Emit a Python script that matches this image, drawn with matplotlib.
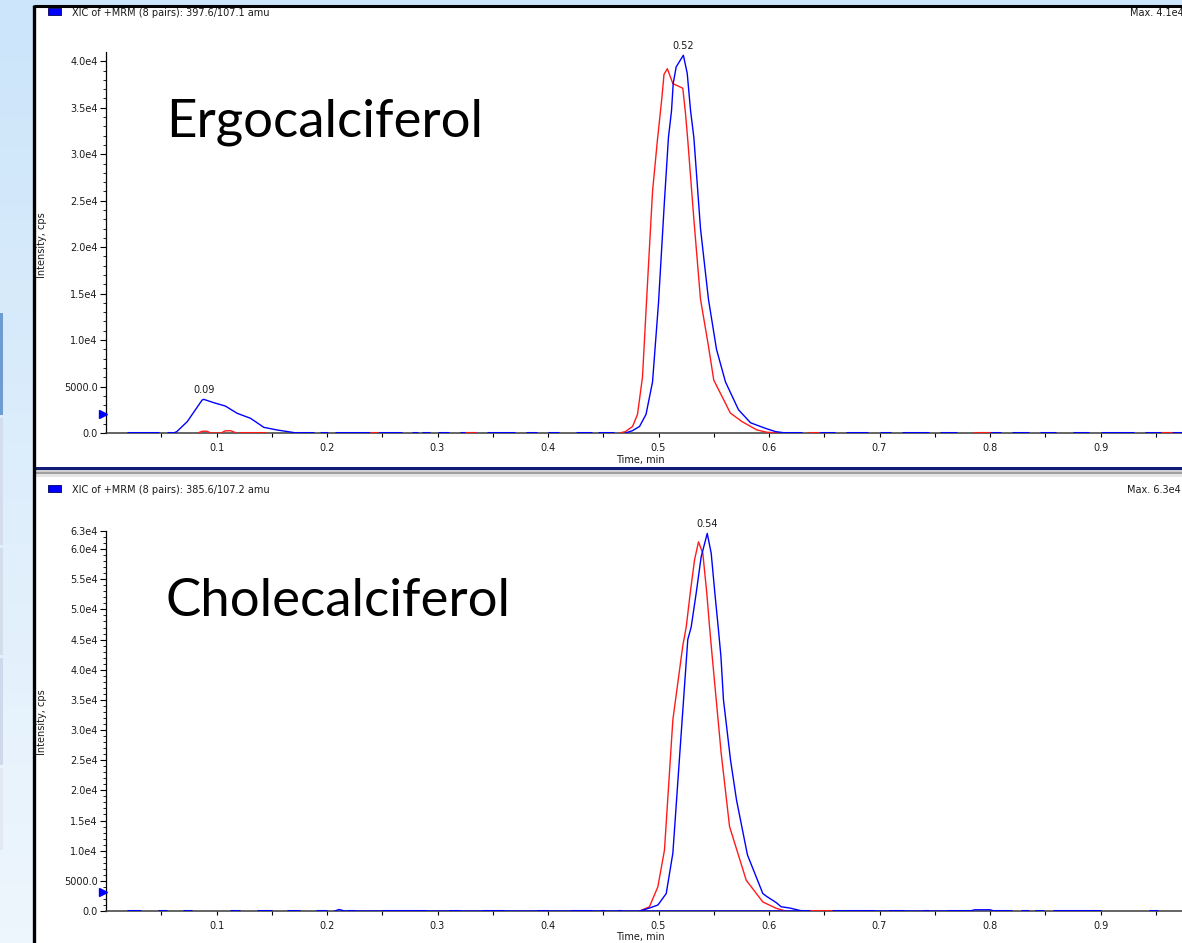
import numpy as np
import matplotlib.pyplot as plt
from matplotlib.patches import Rectangle
from matplotlib.colors import LinearSegmentedColormap

W, H = 1182, 943

# ---- Ergocalciferol (397.6/107.1), time in min, intensity in cps ----
ergo_blue_t = [0.470, 0.4765, 0.4828, 0.4887, 0.4946, 0.5000, 0.5054, 0.5090, 0.5118, 0.5133,
               0.5160, 0.5225, 0.5260, 0.5290, 0.5320, 0.5380, 0.5452, 0.5525, 0.5606, 0.5724,
               0.5833, 0.5968, 0.6059, 0.615]
ergo_blue_i = [0, 250, 700, 2000, 5500, 14000, 25000, 31800, 34700, 37600,
               39400, 40650, 38700, 34700, 31800, 22000, 14400, 9000, 5500, 2500,
               1100, 500, 150, 0]
ergo_red_t = [0.465, 0.470, 0.4765, 0.4810, 0.4855, 0.4900, 0.4946, 0.4990, 0.5030, 0.5050,
              0.5080, 0.5130, 0.5220, 0.5245, 0.5265, 0.5320, 0.5380, 0.5450, 0.5500, 0.5650,
              0.5755, 0.5890, 0.5980, 0.610]
ergo_red_i = [0, 150, 700, 2000, 6000, 16000, 26000, 31500, 36000, 38600,
              39200, 37600, 37100, 34300, 31500, 23000, 14400, 9500, 5700, 2150,
              1230, 330, 80, 0]
ergo_small_t = [0.061, 0.064, 0.0735, 0.087, 0.0885, 0.0976, 0.108, 0.1187, 0.1308, 0.1428,
                0.155, 0.165, 0.172]
ergo_small_i = [0, 140, 1220, 3550, 3620, 3260, 2900, 2120, 1580, 610, 320, 140, 0]
ergo_red_small_t = [0.083, 0.087, 0.091, 0.095, 0.104, 0.108, 0.113, 0.118]
ergo_red_small_i = [0, 180, 200, 0, 0, 230, 240, 0]
ergo_base_blue = [(0.019, 0.048), (0.055, 0.061), (0.167, 0.188), (0.194, 0.201), (0.207, 0.239),
                  (0.246, 0.268), (0.277, 0.282), (0.286, 0.293), (0.30, 0.31), (0.32, 0.335),
                  (0.345, 0.37), (0.38, 0.39), (0.40, 0.41), (0.425, 0.44), (0.445, 0.46),
                  (0.61, 0.63), (0.645, 0.66), (0.67, 0.69), (0.70, 0.71), (0.72, 0.745),
                  (0.755, 0.77), (0.79, 0.81), (0.82, 0.835), (0.845, 0.86), (0.875, 0.89),
                  (0.90, 0.93), (0.94, 0.974)]
ergo_base_red = [(0.12, 0.145), (0.239, 0.246), (0.325, 0.335), (0.635, 0.645),
                 (0.785, 0.80), (0.955, 0.965)]

# ---- Cholecalciferol (385.6/107.2) ----
chol_blue_t = [0.483, 0.492, 0.4995, 0.507, 0.513, 0.5214, 0.5265, 0.5296, 0.5341, 0.5386,
               0.5441, 0.5477, 0.5510, 0.5540, 0.5565, 0.5588, 0.5652, 0.5706, 0.5805, 0.5944,
               0.598, 0.6065, 0.611, 0.6186, 0.63]
chol_blue_i = [0, 500, 1000, 2900, 9600, 31700, 45000, 47100, 52700, 58700,
               62600, 59300, 52700, 47100, 42200, 35000, 25000, 18400, 9300, 2900,
               2400, 1400, 700, 500, 0]
chol_red_t = [0.483, 0.4918, 0.4994, 0.5054, 0.5130, 0.5220, 0.5251, 0.5287, 0.5326, 0.5362,
              0.5401, 0.5437, 0.5462, 0.5486, 0.5567, 0.5643, 0.5794, 0.5944, 0.6065, 0.615]
chol_red_i = [0, 700, 4000, 10100, 31700, 44000, 47100, 52700, 58200, 61200,
              59300, 52700, 47100, 42200, 26200, 14000, 5100, 1500, 450, 0]
chol_bump_t = [0.207, 0.211, 0.216, 0.782, 0.786, 0.800, 0.804]
chol_bump_i = [0, 250, 0, 0, 200, 200, 0]
chol_base_blue = [(0.019, 0.032), (0.047, 0.055), (0.070, 0.078), (0.112, 0.121), (0.137, 0.150),
                  (0.164, 0.176), (0.19, 0.20), (0.218, 0.225), (0.25, 0.29), (0.31, 0.32),
                  (0.34, 0.36), (0.39, 0.40), (0.42, 0.44), (0.447, 0.452), (0.462, 0.467),
                  (0.625, 0.637), (0.657, 0.695), (0.709, 0.722), (0.739, 0.745), (0.761, 0.782),
                  (0.804, 0.820), (0.828, 0.835), (0.841, 0.849), (0.857, 0.900), (0.944, 0.952)]
chol_base_red = [(0.637, 0.657)]

ergo_yticks = [0, 5000, 10000, 15000, 20000, 25000, 30000, 35000, 40000]
ergo_ylabels = ['0.0', '5000.0', '1.0e4', '1.5e4', '2.0e4', '2.5e4', '3.0e4', '3.5e4', '4.0e4']
chol_yticks = [0, 5000, 10000, 15000, 20000, 25000, 30000, 35000, 40000, 45000, 50000,
               55000, 60000, 63000]
chol_ylabels = ['0.0', '5000.0', '1.0e4', '1.5e4', '2.0e4', '2.5e4', '3.0e4', '3.5e4', '4.0e4',
                '4.5e4', '5.0e4', '5.5e4', '6.0e4', '6.3e4']
xticks = [0.1, 0.2, 0.3, 0.4, 0.5, 0.6, 0.7, 0.8, 0.9]

BLUE = '#0000ff'
RED = '#ff1a1a'
SMALL = dict(family='DejaVu Sans', size=7.0, color='#1a1a1a')


def fx(x):
    return x / W


def fy(y):
    return 1 - y / H


fig = plt.figure(figsize=(W / 100, H / 100), dpi=100)

# background (slide + screenshot frame), in pixel coordinates
bg = fig.add_axes([0, 0, 1, 1], zorder=-5)
bg.set_xlim(0, W)
bg.set_ylim(H, 0)
bg.axis('off')
cmap = LinearSegmentedColormap.from_list('slide', ['#cce5fa', '#eef6fd'])
bg.imshow(np.linspace(0, 1, 64).reshape(-1, 1), cmap=cmap, extent=[0, W, H, 0], aspect='auto')
for y0, h, c in [(313, 102, '#6f9bd3'), (418, 127, '#d3ddec'), (548, 107, '#d3ddec'),
                 (658, 107, '#cfd9ec'), (768, 82, '#e2e9f3')]:
    bg.add_patch(Rectangle((0, y0), 3, h, facecolor=c, edgecolor='none'))
bg.add_patch(Rectangle((34, 5), W - 34, H - 5, facecolor='white', edgecolor='none'))
bg.plot([34, W], [5.5, 5.5], color='black', lw=2.2, solid_capstyle='butt')
bg.plot([34, 34], [5, H], color='black', lw=2.4, solid_capstyle='butt')
for y0, h, c in [(466.5, 3, '#101c78'), (469.5, 2, '#d0d0d0'), (471.5, 2, '#a0a0a0'),
                 (473.5, 3, '#e6e6e6')]:
    bg.add_patch(Rectangle((35, y0), W - 35, h, facecolor=c, edgecolor='none'))
for ytop in [7.5, 484.5]:
    bg.add_patch(Rectangle((48, ytop), 13, 7, facecolor=BLUE, edgecolor='#000060', lw=0.6))

xmax = (W - 106) / 1105


def panel(top, bottom, ymax, yticks, ylabels, blue_t, blue_i, red_t, red_i,
          base_blue, base_red, peak_t, peak_i, peak_lab, marker_y):
    ax = fig.add_axes([fx(106), fy(bottom), 1 - fx(106), (bottom - top) / H])
    ax.set_xlim(0, xmax)
    ax.set_ylim(0, ymax)
    ax.patch.set_alpha(0)
    for s in ['top', 'right']:
        ax.spines[s].set_visible(False)
    ax.spines['left'].set_color('black')
    ax.spines['left'].set_linewidth(0.9)
    ax.spines['bottom'].set_color('#3a3a3a')
    ax.spines['bottom'].set_linewidth(1.1)
    ax.plot(red_t, red_i, color=RED, lw=1.0, zorder=3)
    ax.plot(blue_t, blue_i, color=BLUE, lw=1.0, zorder=4)
    ax.hlines([0] * len(base_blue), [a for a, b in base_blue], [b for a, b in base_blue],
              color=BLUE, lw=2.2, zorder=5)
    ax.hlines([0] * len(base_red), [a for a, b in base_red], [b for a, b in base_red],
              color=RED, lw=2.2, zorder=5)
    ax.set_yticks(yticks)
    ax.set_yticklabels(ylabels, **SMALL)
    ax.set_yticks(np.arange(0, ymax, 1000), minor=True)
    ax.set_xticks(xticks)
    ax.set_xticklabels([f'{v:.1f}' for v in xticks], **SMALL)
    ax.set_xticks(np.arange(0.05, xmax, 0.1), minor=True)
    ax.tick_params(axis='y', which='major', length=4, width=0.8, pad=2)
    ax.tick_params(axis='y', which='minor', length=2, width=0.6)
    ax.tick_params(axis='x', which='major', length=3, width=0.8, pad=4)
    ax.tick_params(axis='x', which='minor', length=3, width=0.8)
    for lab, t, i in zip(peak_lab, peak_t, peak_i):
        ax.annotate(lab, xy=(t, i), xytext=(0, 3), textcoords='offset points',
                    ha='center', va='bottom', **SMALL)
    ax.plot([-0.0028], [marker_y], marker='>', ms=6, color=BLUE, clip_on=False, zorder=6)
    return ax


ax1 = panel(52, 433, 41000, ergo_yticks, ergo_ylabels, ergo_blue_t, ergo_blue_i,
            ergo_red_t, ergo_red_i, ergo_base_blue, ergo_base_red,
            [0.5225, 0.0885], [40650, 3620], ['0.52', '0.09'], 2000)
ax1.plot(ergo_red_small_t, ergo_red_small_i, color=RED, lw=1.0, zorder=3)
ax1.plot(ergo_small_t, ergo_small_i, color=BLUE, lw=1.0, zorder=4)

ax2 = panel(531, 911, 63000, chol_yticks, chol_ylabels, chol_blue_t, chol_blue_i,
            chol_red_t, chol_red_i, chol_base_blue, chol_base_red,
            [0.5441], [62600], ['0.54'], 3200)
ax2.plot(chol_bump_t, chol_bump_i, color=BLUE, lw=1.0, zorder=4)

# header / axis texts
fig.text(fx(72), fy(13), 'XIC of +MRM (8 pairs): 397.6/107.1 amu', va='center', **SMALL)
fig.text(fx(72), fy(490), 'XIC of +MRM (8 pairs): 385.6/107.2 amu', va='center', **SMALL)
fig.text(fx(1130), fy(13), 'Max. 4.1e4 cps.', va='center', **SMALL)
fig.text(fx(1127), fy(490), 'Max. 6.3e4 cps.', va='center', **SMALL)
fig.text(fx(640), fy(460), 'Time, min', ha='center', va='center', **SMALL)
fig.text(fx(640), fy(937), 'Time, min', ha='center', va='center', **SMALL)
fig.text(fx(42), fy(245), 'Intensity, cps', rotation=90, ha='center', va='center', **SMALL)
fig.text(fx(42), fy(722), 'Intensity, cps', rotation=90, ha='center', va='center', **SMALL)

# compound names
fig.text(fx(166), fy(122), 'Ergocalciferol', family='Lato', size=38, va='center', color='black')
fig.text(fx(166), fy(602), 'Cholecalciferol', family='Lato', size=38, va='center', color='black')

fig.savefig('out.png', dpi=100)
